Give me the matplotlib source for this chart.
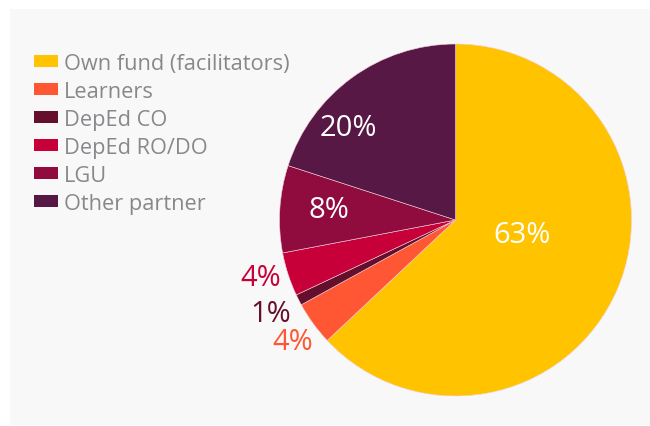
import matplotlib
matplotlib.use("Agg")
import matplotlib.pyplot as plt
from matplotlib.patches import Rectangle

# data
labels = ["Own fund (facilitators)", "Learners", "DepEd CO", "DepEd RO/DO", "LGU", "Other partner"]
shares = [63, 4, 1, 4, 8, 20]
colors = ["#FFC300", "#FF5733", "#640F2B", "#C70039", "#900C3F", "#581845"]

# label centres in pixel space (x, y from top) and text colours
label_pos = [(522, 236), (293, 343), (271, 315), (261, 279), (329, 211), (348, 128)]
label_col = ["white", "#FF5733", "#640F2B", "#C70039", "white", "white"]

plt.rcParams["font.family"] = ["Open Sans", "DejaVu Sans"]

W, H = 650, 427
fig = plt.figure(figsize=(W / 100, H / 100), dpi=100)
fig.patch.set_facecolor("white")
ax = fig.add_axes([0, 0, 1, 1])
ax.set_xlim(0, W)
ax.set_ylim(0, H)
ax.set_aspect("equal")
ax.axis("off")

# light grey panel
ax.add_patch(Rectangle((10, 1), W - 10, H - 11, facecolor="#F8F8F8", edgecolor="none", zorder=0))

cx, cy, r = 455.5, H - 221, 176
wedges, _ = ax.pie(shares, colors=colors, startangle=90, counterclock=False,
                   center=(cx, cy), radius=r, frame=True,
                   wedgeprops=dict(edgecolor="#F3D0D8", linewidth=0.4))
ax.set_xlim(0, W)
ax.set_ylim(0, H)
ax.axis("off")

for v, (px, py), c in zip(shares, label_pos, label_col):
    ax.text(px, H - py, f"{v}%", color=c, fontsize=21, ha="center", va="center")

leg = ax.legend(wedges, labels, loc="upper left", bbox_to_anchor=(34 / W, 1 - 54 / H),
                frameon=False, fontsize=15.7, handlelength=1.1, handleheight=0.5,
                handletextpad=0.28, labelspacing=0.32, borderaxespad=0, borderpad=0)
for t in leg.get_texts():
    t.set_color("#88888C")
for h in leg.legend_handles:
    h.set_edgecolor("none")

fig.savefig("out.png", dpi=100, facecolor="white")
